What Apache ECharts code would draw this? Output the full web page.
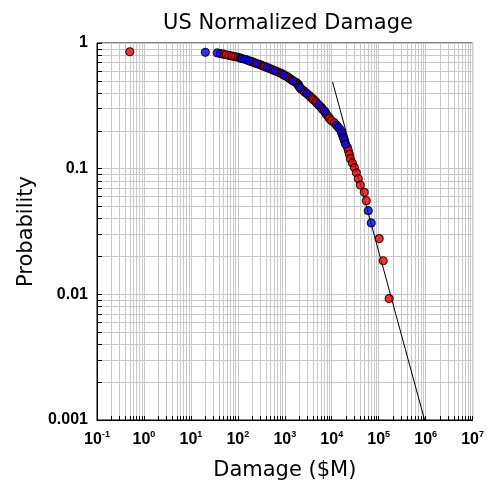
<!DOCTYPE html>
<html>
<head>
<meta charset="utf-8">
<script src="https://cdn.jsdelivr.net/npm/echarts@6/dist/echarts.min.js"></script>
<style>
html, body { margin: 0; padding: 0; background: #fff; }
#chart { width: 487px; height: 486px; }
</style>
</head>
<body>
<div id="chart"></div>
<script>
// damage ($M) and exceedance probability, largest probability first
var damage = [0.5, 20.3, 36.4, 42.1, 48.7, 56.4, 65.3, 75.5, 87.4, 101,
	112, 123, 142, 157, 173, 191, 210, 232, 255, 282,
	310, 342, 377, 416, 458, 505, 557, 614, 677, 746,
	823, 907, 952, 1050, 1157, 1215, 1276, 1406, 1476, 1628,
	1795, 1884, 1978, 1978, 2076, 2181, 2290, 2524, 2650, 2922,
	3068, 3382, 3551, 3915, 4110, 4531, 4757, 5244, 5506, 6070,
	6373, 7026, 7377, 7745, 8538, 8964, 9883, 11430, 12610, 13900,
	15320, 16080, 16890, 17730, 18610, 19540, 21550, 22620, 23750, 24930,
	27480, 30300, 33400, 36820, 40590, 49330, 54380, 59960, 69370, 102500,
	124700, 166800];
var prob = [0.852, 0.843, 0.833, 0.824, 0.815, 0.806, 0.796, 0.787, 0.778, 0.769,
	0.759, 0.750, 0.741, 0.731, 0.722, 0.713, 0.704, 0.694, 0.685, 0.676,
	0.667, 0.657, 0.648, 0.639, 0.630, 0.620, 0.611, 0.602, 0.593, 0.583,
	0.574, 0.565, 0.556, 0.546, 0.537, 0.528, 0.519, 0.509, 0.500, 0.491,
	0.481, 0.472, 0.463, 0.454, 0.444, 0.435, 0.426, 0.417, 0.407, 0.398,
	0.389, 0.380, 0.370, 0.361, 0.352, 0.343, 0.333, 0.324, 0.315, 0.306,
	0.296, 0.287, 0.278, 0.269, 0.259, 0.250, 0.241, 0.231, 0.222, 0.213,
	0.204, 0.194, 0.185, 0.176, 0.167, 0.157, 0.148, 0.139, 0.130, 0.120,
	0.111, 0.102, 0.0926, 0.0833, 0.0741, 0.0648, 0.0556, 0.0463, 0.0370, 0.0278,
	0.0185, 0.00926];
// r = red point, b = blue point
var colour = ['r', 'b', 'b', 'r', 'r', 'r', 'r', 'r', 'r', 'r',
	'b', 'b', 'b', 'r', 'b', 'r', 'r', 'r', 'b', 'r',
	'r', 'r', 'r', 'b', 'r', 'r', 'r', 'b', 'r', 'r',
	'r', 'r', 'b', 'r', 'r', 'r', 'r', 'r', 'b', 'r',
	'r', 'r', 'r', 'r', 'b', 'r', 'r', 'r', 'r', 'b',
	'r', 'r', 'r', 'r', 'r', 'r', 'r', 'b', 'r', 'r',
	'r', 'b', 'r', 'r', 'r', 'r', 'r', 'r', 'b', 'b',
	'r', 'b', 'r', 'b', 'r', 'b', 'r', 'r', 'r', 'r',
	'r', 'r', 'r', 'r', 'r', 'r', 'r', 'b', 'b', 'r',
	'r', 'r'];
// fitted power-law line
var fitDamage = [10400, 950000];
var fitProb = [0.49, 0.001];
// tick labels
var xTicks = [0.1, 1, 10, 100, 1000, 1e4, 1e5, 1e6, 1e7];
var yTicks = [0.001, 0.01, 0.1, 1];
var yTickText = ['0.001', '0.01', '0.1', '1'];

//  minor grid at 1..9 of every decade
function decadeSteps(ticks) {
	var out = [];
	for (var i = 0; i < ticks.length; i++) {
		for (var k = 1; k <= 9; k++) {
			if (i == ticks.length - 1 && k > 1) break;
			out.push(+(ticks[i] * k).toPrecision(3));
		}
	}
	return out;
}

var redPts = [], bluePts = [];
for (var i = 0; i < damage.length; i++) {
	if (colour[i] == 'b') bluePts.push([damage[i], prob[i]]);
	else redPts.push([damage[i], prob[i]]);
}
var fitPts = [];
for (var j = 0; j < fitDamage.length; j++) fitPts.push([fitDamage[j], fitProb[j]]);

var font = 'Liberation Sans, Arial, sans-serif';
var wide = 'DejaVu Sans, sans-serif';
var myChart = echarts.init(document.getElementById('chart'));
myChart.setOption({
	animation: false,
	backgroundColor: '#fff',
	title: {
		text: 'US Normalized Damage',
		left: 283, top: 8, textAlign: 'center',
		textStyle: { fontFamily: wide, fontSize: 21, fontWeight: 'normal', color: '#000' }
	},
	grid: {
		left: 97, top: 43, width: 378, height: 378,
		show: true, borderColor: '#000', borderWidth: 1, backgroundColor: 'transparent'
	},
	xAxis: {
		type: 'log', logBase: 10, min: 0.1, max: 1e7,
		name: 'Damage ($M)', nameLocation: 'middle', nameGap: 40,
		nameTextStyle: { fontFamily: wide, fontSize: 21, color: '#000' },
		axisLine: { show: true, onZero: false, lineStyle: { color: '#000', width: 1 } },
		axisTick: { show: true, inside: true, length: 4, customValues: decadeSteps(xTicks), lineStyle: { color: '#000' } },
		splitLine: { show: true, lineStyle: { color: '#c8c8c8', width: 1 } },
		axisLabel: {
			customValues: xTicks, margin: 10,
			formatter: function (v) {
				return '{b|10}{s|' + Math.round(Math.log10(v)) + '}';
			},
			rich: {
				b: { fontFamily: font, fontSize: 16, fontWeight: 'bold', color: '#000', lineHeight: 19 },
				s: { fontFamily: font, fontSize: 9, fontWeight: 'bold', color: '#000', verticalAlign: 'top' }
			}
		}
	},
	yAxis: {
		type: 'log', logBase: 10, min: 0.001, max: 1,
		name: 'Probability', nameLocation: 'middle', nameGap: 59, nameRotate: 90,
		nameTextStyle: { fontFamily: wide, fontSize: 21, color: '#000' },
		axisLine: { show: true, lineStyle: { color: '#000', width: 1 } },
		axisTick: { show: true, inside: true, length: 5, customValues: decadeSteps(yTicks), lineStyle: { color: '#000' } },
		splitLine: { show: true, lineStyle: { color: '#c8c8c8', width: 1 } },
		axisLabel: {
			customValues: yTicks, margin: 9,
			fontFamily: font, fontSize: 16, fontWeight: 'bold', color: '#000',
			formatter: function (v) {
				for (var i = 0; i < yTicks.length; i++) {
					if (Math.abs(Math.log10(v) - Math.log10(yTicks[i])) < 1e-6) return yTickText[i];
				}
				return '';
			}
		}
	},
	series: [
		{
			type: 'line', data: fitPts, symbol: 'none', z: 2,
			lineStyle: { color: '#000', width: 1 }
		},
		{
			type: 'scatter', data: redPts, symbol: 'circle', symbolSize: 8, z: 3,
			itemStyle: { color: '#ff0000', borderColor: '#000', borderWidth: 1.2 }
		},
		{
			type: 'scatter', data: bluePts, symbol: 'circle', symbolSize: 8, z: 3,
			itemStyle: { color: '#0000ff', borderColor: '#000', borderWidth: 1.2 }
		}
	]
});
</script>
</body>
</html>
